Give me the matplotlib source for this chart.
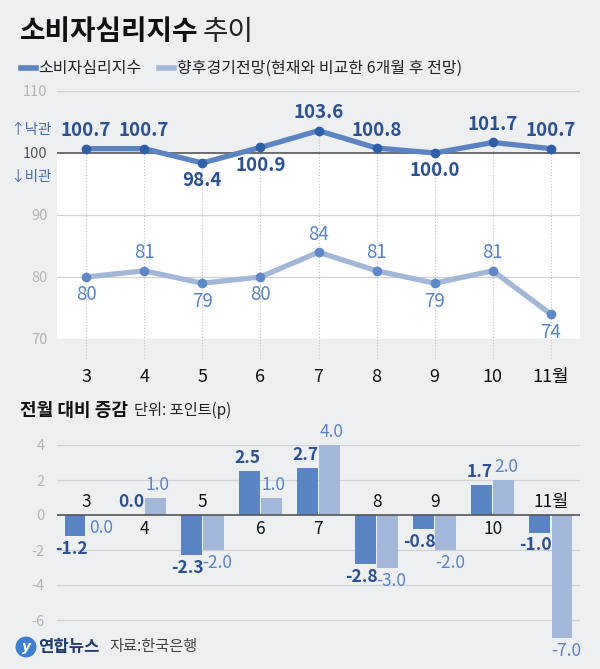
import matplotlib
matplotlib.use("Agg")
from matplotlib import pyplot as plt
from matplotlib.lines import Line2D
import numpy as np

plt.rcParams['font.family'] = ['Noto Sans CJK KR', 'DejaVu Sans']

# data
months = ["3", "4", "5", "6", "7", "8", "9", "10", "11월"]
csi = [100.7, 100.7, 98.4, 100.9, 103.6, 100.8, 100.0, 101.7, 100.7]
outlook = [80, 81, 79, 80, 84, 81, 79, 81, 74]
csi_diff = [-1.2, 0.0, -2.3, 2.5, 2.7, -2.8, -0.8, 1.7, -1.0]
outlook_diff = [0.0, 1.0, -2.0, 1.0, 4.0, -3.0, -2.0, 2.0, -7.0]

# label side for top chart: 1 = above, -1 = below
csi_side = [1, 1, -1, -1, 1, 1, -1, 1, 1]
outlook_side = [-1, 1, -1, -1, 1, 1, -1, 1, -1]

BG = '#eeeff1'
DARK = '#5b84c4'
LIGHT = '#a3b7d8'
NAVY = '#2b5191'
MID = '#5b84c4'
GRID = '#d2d2d2'
TICK = '#b4b4b4'

W, H = 600, 669
fig = plt.figure(figsize=(6, 6.69), dpi=100, facecolor=BG)
x = np.arange(len(months))

# ---------- top chart ----------
ax1 = fig.add_axes([57 / W, 330 / H, 523 / W, 248 / H])
ax1.set_facecolor(BG)
ax1.set_xlim(-0.5, 8.5)
ax1.set_ylim(70, 110)
ax1.axhspan(70, 100, color='white', zorder=0)
for v in [70, 80, 90, 110]:
    ax1.axhline(v, color=GRID, lw=0.9, zorder=1)
ax1.axhline(100, color='#555555', lw=1.2, zorder=2)
ax1.vlines(x, 66.9, csi, colors='#c4c4c4', linestyles=':', lw=0.8, zorder=1, clip_on=False)

ax1.plot(x, outlook, color=LIGHT, lw=3.8, zorder=3, solid_capstyle='round')
ax1.plot(x, outlook, 'o', color='#5f88c8', ms=6, zorder=4)
ax1.plot(x, csi, color=DARK, lw=3.8, zorder=5, solid_capstyle='round')
ax1.plot(x, csi, 'o', color='#2f5fa6', ms=6, zorder=6)

for i, v in enumerate(csi):
    off = 18 if csi_side[i] > 0 else -18
    ax1.annotate(f"{v:.1f}", (x[i], v), xytext=(0, off), textcoords='offset pixels',
                 ha='center', va='center', fontsize=13.5, fontweight='bold', color=NAVY, zorder=7)
for i, v in enumerate(outlook):
    off = 18 if outlook_side[i] > 0 else -18
    ax1.annotate(f"{v}", (x[i], v), xytext=(0, off), textcoords='offset pixels',
                 ha='center', va='center', fontsize=13.5, fontweight='medium', color=MID, zorder=7)

for s in ax1.spines.values():
    s.set_visible(False)
ax1.set_yticks([70, 80, 90, 100, 110])
ax1.set_yticklabels(["70", "80", "90", "100", "110"], fontsize=10.5)
for lab in ax1.get_yticklabels():
    lab.set_color('#555555' if lab.get_text() == "100" else TICK)
ax1.set_xticks(x)
ax1.set_xticklabels(months, fontsize=13, color='#111111')
ax1.tick_params(axis='y', length=0, pad=7)
ax1.tick_params(axis='x', length=0, pad=21)

fig.text(52 / W, 1 - 130 / H, "↑낙관", ha='right', va='center', fontsize=10.5, color='#4a6ea6')
fig.text(52 / W, 1 - 177 / H, "↓비관", ha='right', va='center', fontsize=10.5, color='#4a6ea6')

# ---------- bottom chart ----------
ax2 = fig.add_axes([57 / W, 31.5 / H, 523 / W, 192.5 / H])
ax2.set_facecolor(BG)
ax2.set_xlim(-0.5, 8.5)
ax2.set_ylim(-7, 4)
for v in [4, 2, -2, -4, -6]:
    ax2.axhline(v, color=GRID, lw=0.9, zorder=1)
ax2.axhline(0, color='#555555', lw=1.2, zorder=4)

bw = 0.36
ax2.bar(x - 0.19, csi_diff, width=bw, color=DARK, zorder=3, clip_on=False)
ax2.bar(x + 0.19, outlook_diff, width=bw, color=LIGHT, zorder=3, clip_on=False)

for i in range(len(months)):
    a, b = csi_diff[i], outlook_diff[i]
    grp = a + b
    # month label on opposite side of the bars
    if grp < 0:
        ax2.annotate(months[i], (x[i], 0), xytext=(0, 13), textcoords='offset pixels',
                     ha='center', va='center', fontsize=12.5, color='#111111')
    else:
        ax2.annotate(months[i], (x[i], 0), xytext=(0, -14), textcoords='offset pixels',
                     ha='center', va='center', fontsize=12.5, color='#111111')
    for v, dx, col, wt in [(a, -0.19, NAVY, 'bold'), (b, 0.19, MID, 'medium')]:
        up = v > 0 or (v == 0 and grp > 0)
        if up:
            off, hx = 13, (-2 if dx < 0 else 2)
        else:
            off, hx = -13, (-4 if dx < 0 else 4)
        ax2.annotate(f"{v:.1f}", (x[i] + dx, v), xytext=(hx, off), textcoords='offset pixels',
                     ha='center', va='center', fontsize=12.5, fontweight=wt, color=col,
                     zorder=6, annotation_clip=False)

for s in ax2.spines.values():
    s.set_visible(False)
ax2.set_xticks([])
ax2.set_yticks([-6, -4, -2, 0, 2, 4])
ax2.set_yticklabels(["-6", "-4", "-2", "0", "2", "4"], fontsize=10.5, color=TICK)
ax2.tick_params(axis='y', length=0, pad=9)

# ---------- titles / legend / footer ----------
renderer = fig.canvas.get_renderer()
t1 = fig.text(20 / W, 1 - 32 / H, "소비자심리지수", fontsize=20, fontweight='bold',
              color='#111111', va='center')
bb = t1.get_window_extent(renderer)
fig.text((bb.x1 + 4) / W, 1 - 32 / H, "추이", fontsize=20, color='#222222', va='center')

ly = 1 - 68 / H
fig.add_artist(Line2D([21 / W, 36 / W], [ly, ly], lw=4, color=DARK))
fig.text(38 / W, ly, "소비자심리지수", fontsize=11.5, color='#222222', va='center')
fig.add_artist(Line2D([159 / W, 174 / W], [ly, ly], lw=4, color=LIGHT))
fig.text(177 / W, ly, "향후경기전망(현재와 비교한 6개월 후 전망)", fontsize=11.5,
         color='#222222', va='center')

t2 = fig.text(20 / W, 1 - 410 / H, "전월 대비 증감", fontsize=13, fontweight='bold',
              color='#111111', va='center')
bb2 = t2.get_window_extent(renderer)
fig.text((bb2.x1 + 6) / W, 1 - 410 / H, "단위: 포인트(p)", fontsize=11,
         color='#222222', va='center')

fy = 1 - 647 / H
fig.text(26 / W, fy, "y", fontsize=10, fontstyle='italic', fontweight='bold', color='white',
         ha='center', va='center', family='DejaVu Sans',
         bbox=dict(boxstyle='circle,pad=0.25', fc='#3f7fcf', ec='none'))
fig.text(38 / W, fy, "연합뉴스", fontsize=12, fontweight='bold', color='#1f3d6e', va='center')
fig.text(109 / W, fy, "자료:한국은행", fontsize=11, color='#444444', va='center')

fig.savefig('out.png', dpi=100, facecolor=BG)
